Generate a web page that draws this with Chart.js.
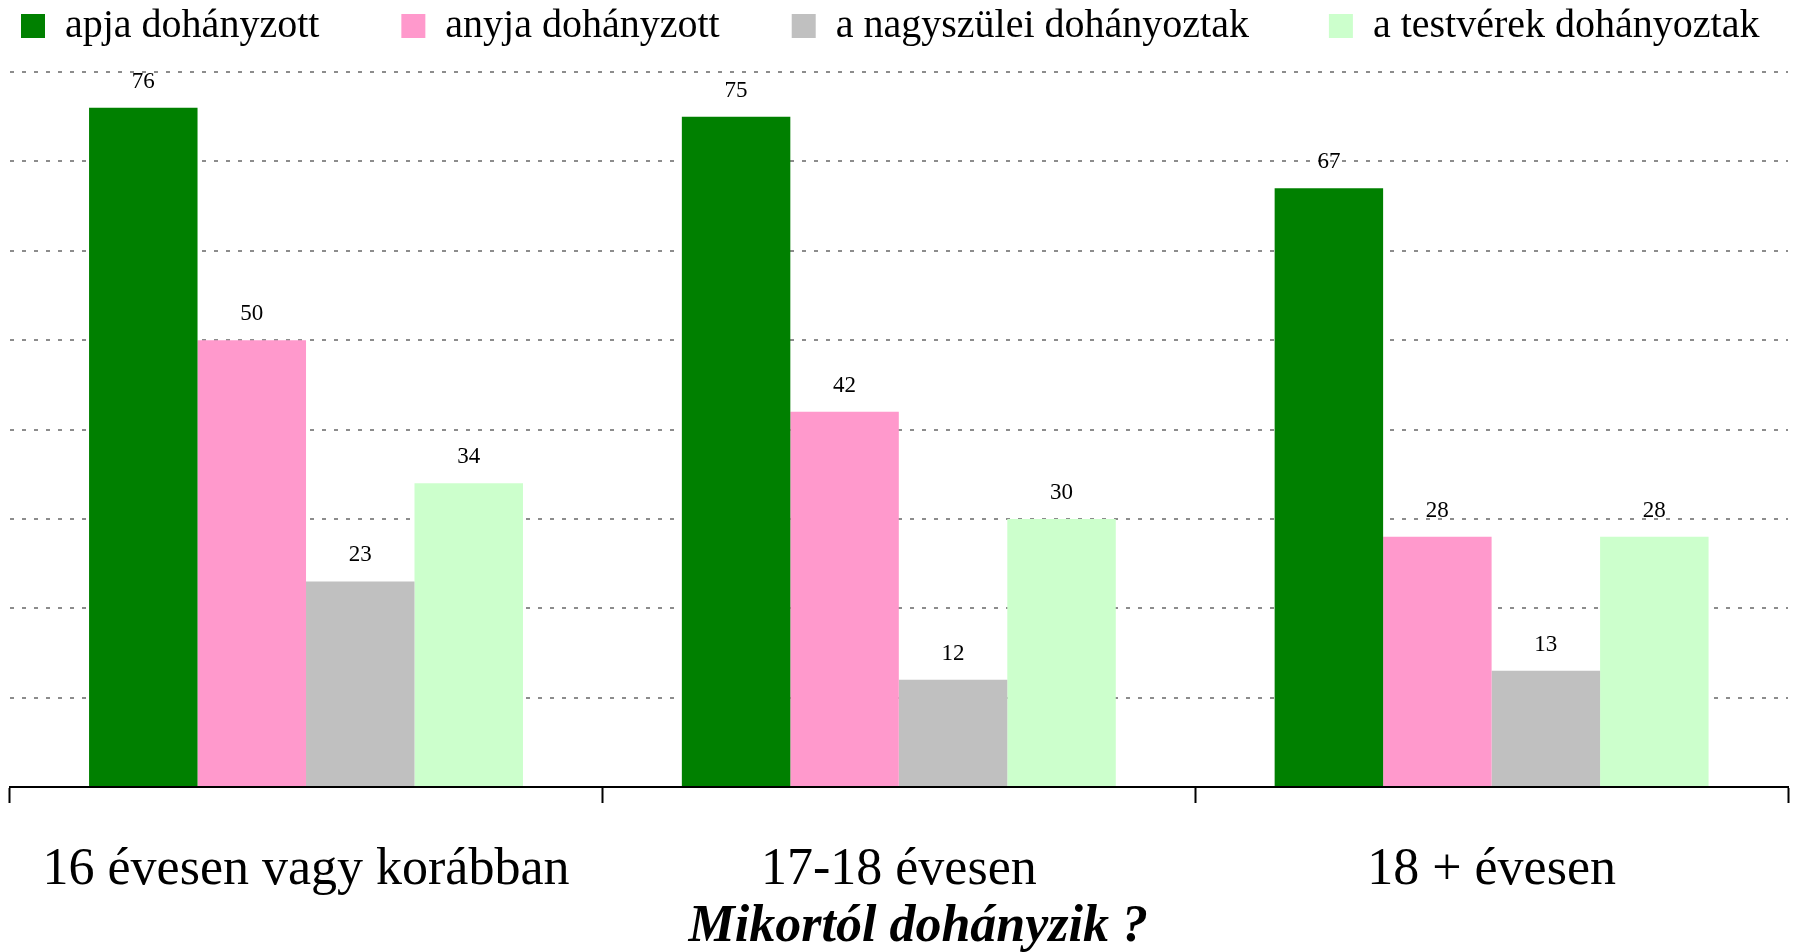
<!DOCTYPE html>
<html lang="hu">
<head>
    <meta charset="UTF-8">
    <title>Mikortól dohányzik ?</title>
    <script src="https://cdn.jsdelivr.net/npm/chart.js"></script>
    <style>
        body { margin: 0; background: #fff; }
        #wrap { width: 1795px; height: 952px; position: relative; }
    </style>
</head>
<body>
    <div id="wrap"><canvas id="chartCanvas"></canvas></div>

    <script>
        // data
        const categories = ['16 évesen vagy korábban', '17-18 évesen', '18 + évesen'];
        const seriesNames = ['apja dohányzott', 'anyja dohányzott', 'a nagyszülei dohányoztak', 'a testvérek dohányoztak'];
        const apja = [76, 75, 67];
        const anyja = [50, 42, 28];
        const nagyszulok = [23, 12, 13];
        const testverek = [34, 30, 28];
        const colors = ['#008000', '#ff99cc', '#c0c0c0', '#ccffcc'];

        Chart.defaults.font.family = "'Liberation Serif', 'Times New Roman', serif";
        Chart.defaults.color = '#000';

        // value above each bar
        const valueLabels = {
            id: 'valueLabels',
            afterDatasetsDraw(chart) {
                const ctx = chart.ctx;
                ctx.save();
                ctx.font = "23px 'Liberation Serif', serif";
                ctx.fillStyle = '#000';
                ctx.textAlign = 'center';
                ctx.textBaseline = 'middle';
                chart.data.datasets.forEach((ds, i) => {
                    chart.getDatasetMeta(i).data.forEach((bar, j) => {
                        ctx.fillText(ds.data[j], bar.x, bar.y - 26);
                    });
                });
                ctx.restore();
            }
        };

        const seriesData = [apja, anyja, nagyszulok, testverek];
        // extra room after each legend entry
        const legendGaps = ['       ', '      ', '      \u2009', ''];

        const chart = new Chart(document.getElementById('chartCanvas'), {
            type: 'bar',
            data: {
                labels: categories,
                datasets: seriesNames.map((name, i) => ({
                    label: name,
                    data: seriesData[i],
                    backgroundColor: colors[i],
                    borderWidth: 0,
                    barPercentage: 1.0,
                    categoryPercentage: 0.732
                }))
            },
            options: {
                responsive: true,
                maintainAspectRatio: false,
                animation: false,
                layout: { padding: { top: -6, left: 9, right: 7, bottom: 0 } },
                plugins: {
                    tooltip: { enabled: false },
                    legend: {
                        position: 'top',
                        align: 'start',
                        labels: {
                            boxWidth: 24,
                            boxHeight: 24,
                            padding: 12,
                            font: { size: 40 },
                            color: '#000',
                            generateLabels: (c) => {
                                const items = Chart.defaults.plugins.legend.labels.generateLabels(c);
                                items.forEach((it, i) => { it.text += legendGaps[i]; });
                                return items;
                            }
                        }
                    },
                    // empty spacer under the legend
                    subtitle: {
                        display: true,
                        text: '',
                        weight: 0,
                        padding: 0,
                        font: { size: 16, lineHeight: 1 }
                    }
                },
                scales: {
                    x: {
                        grid: {
                            drawOnChartArea: false,
                            drawTicks: true,
                            tickLength: 16,
                            tickColor: '#000',
                            tickWidth: 2,
                            offset: true
                        },
                        border: { display: true, color: '#000', width: 2, z: 1 },
                        ticks: {
                            font: { size: 52, lineHeight: 1 },
                            color: '#000',
                            padding: 41,
                            maxRotation: 0,
                            autoSkip: false
                        },
                        title: {
                            display: true,
                            text: '\u00a0\u00a0\u00a0Mikortól dohányzik ?',
                            color: '#000',
                            font: { size: 52, weight: 'bold', style: 'italic', lineHeight: 1 },
                            padding: { top: -35, bottom: -2 }
                        }
                    },
                    y: {
                        min: 0,
                        max: 80,
                        ticks: { display: false, stepSize: 10 },
                        grid: { color: '#8c8c8c', lineWidth: 2, drawTicks: false },
                        border: { display: false, dash: [4, 8] }
                    }
                }
            },
            plugins: [valueLabels]
        });
    </script>
</body>
</html>
